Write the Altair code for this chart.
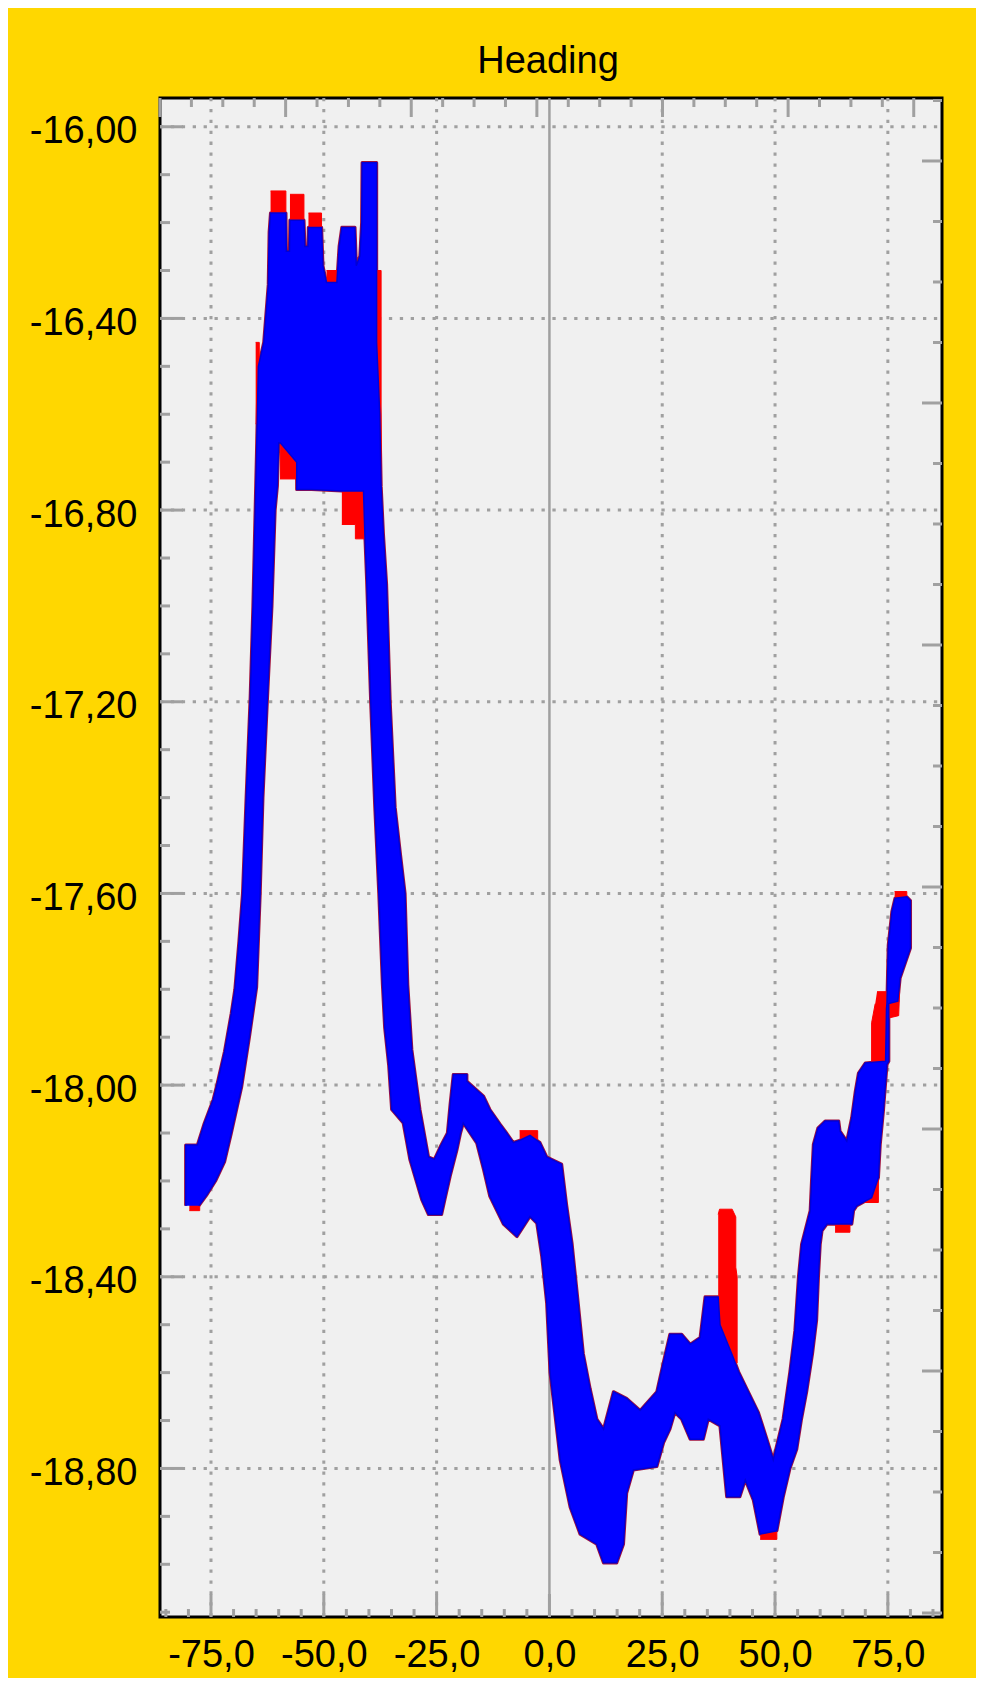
import altair as alt
import pandas as pd

# ---------------- data ----------------
# Blue series: outline of the thick band (upper edge left->right, then lower edge right->left)
blue_x = [-80.6, -80.6, -78.0, -76.5, -74.5, -73.7, -72.0, -70.5, -69.7, -68.8, -68.0, -67.2, -66.3, -65.7,
          -65.2, -64.9, -64.5, -63.3, -62.3, -62.1, -61.8, -58.4, -58.3, -57.6, -57.5, -54.4, -54.2, -53.5,
          -53.4, -50.5, -50.2, -49.4, -47.1, -46.6, -46.0, -43.1, -42.8, -42.0, -41.6, -41.5, -38.3, -38.3,
          -37.6, -37.3, -36.8, -36.1, -35.3, -34.2, -33.0, -32.0, -31.4, -30.5, -28.7, -26.8, -25.5, -24.0,
          -22.6, -22.0, -21.3, -18.3, -18.3, -14.6, -13.2, -10.9, -9.5, -8.0, -6.5, -4.3, -2.1, -0.6, 0.5,
          2.7, 3.8, 5.0, 6.1, 7.5, 9.0, 10.5, 12.0, 14.2, 17.1, 20.1, 23.8, 25.3, 26.7, 29.3, 31.2, 33.4,
          34.5, 37.4, 37.8, 40.8, 41.9, 43.7, 46.3, 48.2, 49.6, 51.8, 53.3, 54.4, 55.2, 55.9, 57.8, 58.1,
          58.5, 59.5, 61.1, 64.1, 64.4, 65.9, 67.0, 67.8, 68.5, 70.0, 74.5, 74.7, 74.8, 75.1, 75.9, 76.6,
          79.2, 80.0,
          80.0, 77.7, 77.2, 75.2, 75.2, 74.8, 74.0, 73.3, 72.9, 71.4, 68.1, 67.4, 67.0, 61.5, 60.4, 60.0,
          59.6, 59.2, 58.3, 57.0, 55.8, 54.8, 53.3, 51.8, 50.4, 46.7, 45.2, 43.4, 42.2, 39.3, 37.8, 35.2,
          34.1, 31.2, 29.3, 27.8, 26.7, 25.3, 23.8, 18.6, 17.1, 16.4, 14.9, 12.0, 10.5, 6.8, 4.6, 2.4,
          0.15, -0.6, -1.7, -2.8, -4.3, -7.2, -10.2, -13.2, -14.6, -16.1, -19.1, -19.7, -20.5, -22.0,
          -23.2, -23.9, -26.8, -28.3, -30.9, -32.4, -34.95, -35.6, -36.5, -37.0, -37.8, -38.7, -39.6,
          -40.5, -40.9, -41.2, -46.0, -52.7, -56.0, -56.0, -59.6, -60.0, -60.3, -60.8, -61.5, -62.5,
          -63.5, -64.1, -64.9, -66.5, -68.2, -70.5, -72.0, -74.0, -76.0, -77.7]
blue_y = [-18.252, -18.125, -18.125, -18.08, -18.03, -18.0, -17.93, -17.85, -17.80, -17.70, -17.60, -17.40,
          -17.19, -17.0, -16.80, -16.68, -16.50, -16.45, -16.33, -16.22, -16.18, -16.18, -16.26, -16.26,
          -16.195, -16.195, -16.25, -16.25, -16.21, -16.21, -16.29, -16.325, -16.325, -16.25, -16.21,
          -16.21, -16.29, -16.27, -16.20, -16.075, -16.075, -16.45, -16.60, -16.75, -16.85, -16.955,
          -17.20, -17.42, -17.52, -17.60, -17.79, -17.926, -18.051, -18.15, -18.155, -18.125, -18.10,
          -18.04, -17.978, -17.978, -17.992, -18.023, -18.051, -18.082, -18.10, -18.12, -18.115, -18.105,
          -18.12, -18.15, -18.155, -18.165, -18.25, -18.33, -18.43, -18.56, -18.633, -18.697, -18.718,
          -18.640, -18.654, -18.679, -18.640, -18.577, -18.520, -18.520, -18.541, -18.527, -18.442,
          -18.442, -18.50, -18.570, -18.598, -18.633, -18.683, -18.739, -18.782, -18.697, -18.598,
          -18.513, -18.40, -18.332, -18.262, -18.20, -18.124, -18.09, -18.075, -18.075, -18.096, -18.117,
          -18.068, -18.013, -17.975, -17.954, -17.95, -17.84, -17.83, -17.708, -17.638, -17.61, -17.607,
          -17.615,
          -17.714, -17.777, -17.825, -17.83, -17.95, -17.957, -18.054, -18.124, -18.193, -18.235, -18.252,
          -18.262, -18.29, -18.29, -18.304, -18.332, -18.401, -18.491, -18.56, -18.64, -18.70, -18.76,
          -18.80, -18.86, -18.93, -18.937, -18.866, -18.824, -18.859, -18.859, -18.711, -18.697, -18.739,
          -18.739, -18.697, -18.683, -18.718, -18.746, -18.796, -18.803, -18.852, -18.958, -18.997,
          -18.997, -18.958, -18.937, -18.881, -18.782, -18.60, -18.455, -18.357, -18.288, -18.274,
          -18.316, -18.29, -18.232, -18.176, -18.121, -18.079, -18.10, -18.135, -18.19, -18.24, -18.27,
          -18.27, -18.239, -18.156, -18.079, -18.051, -17.96, -17.88, -17.79, -17.60, -17.418, -17.20,
          -16.945, -16.85, -16.76, -16.76, -16.757, -16.757, -16.70, -16.66, -16.66, -16.75, -16.80,
          -17.0, -17.193, -17.40, -17.598, -17.796, -17.90, -18.003, -18.10, -18.16, -18.20, -18.23,
          -18.252]

# Red series: the parts that show from under the blue band
red_patch = [1] * 4 + [2] * 4 + [3] * 4 + [4] * 4 + [5] * 4 + [6] * 7 + [7] * 4 + [8] * 10 + \
            [9] * 4 + [10] * 4 + [11] * 4 + [12] * 8 + [13] * 4 + [14] * 4 + [15] * 4 + [16] * 4
red_x = [-61.8, -58.4, -58.4, -61.8,
         -57.5, -54.4, -54.4, -57.5,
         -53.4, -50.5, -50.5, -53.4,
         -49.4, -47.1, -47.1, -49.4,
         -59.7, -56.0, -56.0, -59.7,
         -46.0, -41.2, -40.8, -40.8, -43.0, -43.0, -46.0,
         -6.6, -2.6, -2.6, -6.6,
         37.4, 37.7, 40.5, 41.3, 41.3, 41.6, 41.6, 40.0, 38.2, 37.4,
         46.7, 50.4, 50.4, 46.7,
         69.6, 72.9, 72.9, 69.6,
         63.3, 66.6, 66.6, 63.3,
         72.6, 77.6, 77.4, 75.2, 74.9, 71.4, 71.4, 72.2,
         76.5, 79.2, 79.2, 76.5,
         -79.8, -77.5, -77.5, -79.8,
         -38.4, -37.3, -37.3, -38.4,
         -65.1, -64.3, -64.3, -65.1]
red_y = [-16.134, -16.134, -16.185, -16.185,
         -16.141, -16.141, -16.20, -16.20,
         -16.18, -16.18, -16.215, -16.215,
         -16.30, -16.30, -16.33, -16.33,
         -16.66, -16.66, -16.735, -16.735,
         -16.74, -16.74, -16.79, -16.86, -16.86, -16.83, -16.83,
         -18.095, -18.095, -18.13, -18.13,
         -18.27, -18.259, -18.259, -18.275, -18.38, -18.40, -18.58, -18.58, -18.52, -18.47,
         -18.925, -18.925, -18.948, -18.948,
         -18.195, -18.195, -18.245, -18.245,
         -18.285, -18.285, -18.307, -18.307,
         -17.805, -17.805, -17.855, -17.86, -17.96, -17.96, -17.87, -17.83,
         -17.596, -17.596, -17.61, -17.61,
         -18.24, -18.24, -18.262, -18.262,
         -16.30, -16.30, -16.75, -16.75,
         -16.45, -16.45, -16.62, -16.62]

# axis ticks / labels
x_labels = [-75, -50, -25, 0, 25, 50, 75]
x_grid = [-75, -50, -25, 25, 50, 75]
x_minor = [-85, -80, -70, -65, -60, -55, -45, -40, -35, -30, -20, -15, -10, -5,
           5, 10, 15, 20, 30, 35, 40, 45, 55, 60, 65, 70, 80, 85]
y_labels = [-16.0, -16.4, -16.8, -17.2, -17.6, -18.0, -18.4, -18.8]
y_minor = [-16.1, -16.2, -16.3, -16.5, -16.6, -16.7, -16.9, -17.0, -17.1, -17.3, -17.4, -17.5,
           -17.7, -17.8, -17.9, -18.1, -18.2, -18.3, -18.5, -18.6, -18.7, -18.9, -19.0, -19.1]
# secondary (unlabelled) top and right axes
top_major = [-4, 0, 4, 8, 12, 16, 20]
top_minor = [-3, -2, -1, 1, 2, 3, 5, 6, 7, 9, 10, 11, 13, 14, 15, 17, 18, 19]
right_major = [0, 4, 8, 12, 16, 20, 24]
right_minor = [-1, 1, 2, 3, 5, 6, 7, 9, 10, 11, 13, 14, 15, 17, 18, 19, 21, 22, 23]

# ---------------- chart ----------------
W, H = 782, 1519
GRID = "#a0a0a0"
FONT = "Liberation Sans"

xs = alt.Scale(domain=[-86.3, 87.0], nice=False, zero=False)
ys = alt.Scale(domain=[-19.11, -15.94], nice=False, zero=False)
ts = alt.Scale(domain=[-4.0, 20.9], nice=False, zero=False)
rs = alt.Scale(domain=[-1.041, 24.066], nice=False, zero=False, reverse=True)

blue = pd.DataFrame({"x": blue_x, "y": blue_y, "i": list(range(len(blue_x)))})
red = pd.DataFrame({"x": red_x, "y": red_y, "g": red_patch, "i": list(range(len(red_x)))})

x_axis = alt.Axis(orient="bottom", values=x_labels, title=None, grid=False, domain=False,
                  ticks=False, tickSize=0, labelFont=FONT, labelFontSize=38, labelColor="#000000",
                  labelPadding=19, labelOverlap=False,
                  labelExpr="(datum.value < 0 ? '-' : '') + replace(format(abs(datum.value), '.1f'), '.', ',')")
y_axis = alt.Axis(orient="left", values=y_labels, title=None, grid=False, domain=False,
                  ticks=False, tickSize=0, labelFont=FONT, labelFontSize=38, labelColor="#000000",
                  labelPadding=23, labelOffset=5, labelOverlap=False,
                  labelExpr="(datum.value < 0 ? '-' : '') + replace(format(abs(datum.value), '.2f'), '.', ',')")

dotted = dict(color=GRID, strokeWidth=3, strokeDash=[3.3, 7.6])
tick = dict(color=GRID, strokeWidth=3)

grid_h = alt.Chart(pd.DataFrame({"v": y_labels})).mark_rule(**dotted).encode(
    y=alt.Y("v:Q", scale=ys, axis=None), x=alt.value(0), x2=alt.value(W))
grid_v = alt.Chart(pd.DataFrame({"v": x_grid})).mark_rule(**dotted).encode(
    x=alt.X("v:Q", scale=xs, axis=None), y=alt.value(0), y2=alt.value(H))
zero_line = alt.Chart(pd.DataFrame({"v": [0]})).mark_rule(color=GRID, strokeWidth=2.5).encode(
    x=alt.X("v:Q", scale=xs, axis=None), y=alt.value(0), y2=alt.value(H))

left_major = alt.Chart(pd.DataFrame({"v": y_labels})).mark_rule(**tick).encode(
    y=alt.Y("v:Q", scale=ys, axis=None), x=alt.value(0), x2=alt.value(23))
left_minor = alt.Chart(pd.DataFrame({"v": y_minor})).mark_rule(**tick).encode(
    y=alt.Y("v:Q", scale=ys, axis=None), x=alt.value(0), x2=alt.value(10))
bottom_major = alt.Chart(pd.DataFrame({"v": x_labels})).mark_rule(**tick).encode(
    x=alt.X("v:Q", scale=xs, axis=None), y=alt.value(H), y2=alt.value(H - 23))
bottom_minor = alt.Chart(pd.DataFrame({"v": x_minor})).mark_rule(**tick).encode(
    x=alt.X("v:Q", scale=xs, axis=None), y=alt.value(H), y2=alt.value(H - 8))
top_long = alt.Chart(pd.DataFrame({"t": top_major})).mark_rule(**tick).encode(
    x=alt.X("t:Q", scale=ts, axis=None), y=alt.value(0), y2=alt.value(19))
top_short = alt.Chart(pd.DataFrame({"t": top_minor})).mark_rule(**tick).encode(
    x=alt.X("t:Q", scale=ts, axis=None), y=alt.value(0), y2=alt.value(9))
right_long = alt.Chart(pd.DataFrame({"s": right_major})).mark_rule(**tick).encode(
    y=alt.Y("s:Q", scale=rs, axis=None), x=alt.value(W), x2=alt.value(W - 20))
right_short = alt.Chart(pd.DataFrame({"s": right_minor})).mark_rule(**tick).encode(
    y=alt.Y("s:Q", scale=rs, axis=None), x=alt.value(W), x2=alt.value(W - 9))

# the red series runs almost under the blue one: a thin rim around the band + the spots that stick out
red_rim = alt.Chart(blue).mark_line(stroke="#a0103c", strokeWidth=3.2, strokeJoin="round").encode(
    x=alt.X("x:Q", scale=xs, axis=None),
    y=alt.Y("y:Q", scale=ys, axis=None),
    order="i:Q")
red_layer = alt.Chart(red).mark_line(fill="#ff0000", stroke="#ff0000", strokeWidth=1).encode(
    x=alt.X("x:Q", scale=xs, axis=None),
    y=alt.Y("y:Q", scale=ys, axis=None),
    detail="g:N", order="i:Q")
blue_layer = alt.Chart(blue).mark_line(fill="#0000ff", stroke="#0000d8", strokeWidth=1.5).encode(
    x=alt.X("x:Q", scale=xs, axis=x_axis),
    y=alt.Y("y:Q", scale=ys, axis=y_axis),
    order="i:Q")

chart = alt.layer(
    grid_h, grid_v, zero_line, left_major, left_minor, bottom_major, bottom_minor,
    top_long, top_short, right_long, right_short, red_rim, red_layer, blue_layer
).resolve_scale(
    x="independent", y="independent"
).properties(
    width=W, height=H,
    title=alt.TitleParams("Heading", font=FONT, fontSize=38, fontWeight="normal", color="#000000",
                          anchor="middle", frame="group", offset=16, dx=-3),
    padding={"left": 152, "top": 90, "right": 34, "bottom": 61},
    autosize=alt.AutoSizeParams(type="none"),
    background="#ffd700",
).configure_view(
    stroke="#000000", strokeWidth=3, fill="#f0f0f0"
)

chart.save("out.html", embed_options={"renderer": "svg", "actions": False})
